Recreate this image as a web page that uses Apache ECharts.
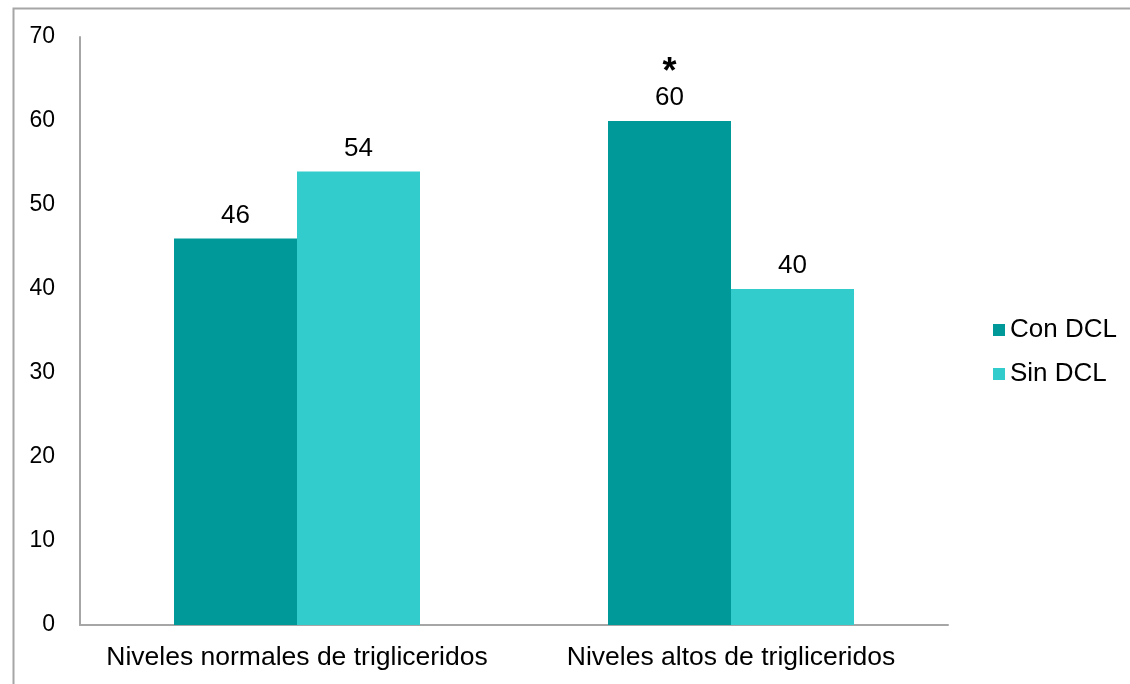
<!DOCTYPE html>
<html>
<head>
<meta charset="utf-8">
<script src="https://cdn.jsdelivr.net/npm/echarts@6/dist/echarts.min.js"></script>
<style>
  html, body { margin: 0; padding: 0; background: #ffffff; }
  #chart { width: 1130px; height: 684px; }
</style>
</head>
<body>
<div id="chart"></div>
<script>
// Categories, series values and axis ticks
const categories = ['Niveles normales de trigliceridos', 'Niveles altos de trigliceridos'];
const seriesNames = ['Con DCL', 'Sin DCL'];
const conDCL = [46, 60];
const sinDCL = [54, 40];
const conDCLMarks = ['', '*'];   // significance marks shown above the Con DCL bars
const yTicks = [0, 10, 20, 30, 40, 50, 60, 70];

const FONT = '"Liberation Sans", Arial, sans-serif';
const colors = ['#009999', '#33CCCC'];

const chart = echarts.init(document.getElementById('chart'), null, { renderer: 'canvas' });

function labelFor(marks) {
  return function (p) {
    const m = marks ? marks[p.dataIndex] : '';
    return m ? '{s|' + m + '}\n{v|' + p.value + '}' : '{v|' + p.value + '}';
  };
}

const labelRich = {
  v: { fontFamily: FONT, fontSize: 26, color: '#000', lineHeight: 30 },
  s: { fontFamily: FONT, fontSize: 36, fontWeight: 'bold', color: '#000', lineHeight: 20 }
};

chart.setOption({
  animation: false,
  backgroundColor: '#ffffff',
  color: colors,
  graphic: [{
    type: 'rect',
    left: 11, top: 6,
    shape: { width: 1300, height: 900 },
    style: { fill: 'none', stroke: '#a6a6a6', lineWidth: 2 },
    silent: true, z: -1
  }],
  grid: { left: 80, right: 182, top: 37, bottom: 59, containLabel: false },
  legend: {
    orient: 'vertical',
    left: 988, top: 312,
    itemWidth: 12, itemHeight: 12,
    itemGap: 18,
    icon: 'rect',
    textStyle: { fontFamily: FONT, fontSize: 26, color: '#000' },
    data: seriesNames
  },
  xAxis: {
    type: 'category',
    data: categories,
    axisLine: { lineStyle: { color: '#a6a6a6', width: 2 } },
    axisTick: { show: false },
    axisLabel: { fontFamily: FONT, fontSize: 26.5, color: '#000', margin: 19, interval: 0 }
  },
  yAxis: {
    type: 'value',
    min: yTicks[0], max: yTicks[yTicks.length - 1], interval: 10,
    axisLine: { show: true, lineStyle: { color: '#a6a6a6', width: 2 } },
    axisTick: { show: false },
    splitLine: { show: false },
    axisLabel: { fontFamily: FONT, fontSize: 23, color: '#000', margin: 25 }
  },
  series: [
    {
      name: seriesNames[0], type: 'bar', data: conDCL,
      barWidth: 123, barGap: '0%',
      itemStyle: { color: colors[0] },
      label: { show: true, position: 'top', distance: 8, formatter: labelFor(conDCLMarks), rich: labelRich }
    },
    {
      name: seriesNames[1], type: 'bar', data: sinDCL,
      barWidth: 123, barGap: '0%',
      itemStyle: { color: colors[1] },
      label: { show: true, position: 'top', distance: 8, formatter: labelFor(null), rich: labelRich }
    }
  ]
});
</script>
</body>
</html>
